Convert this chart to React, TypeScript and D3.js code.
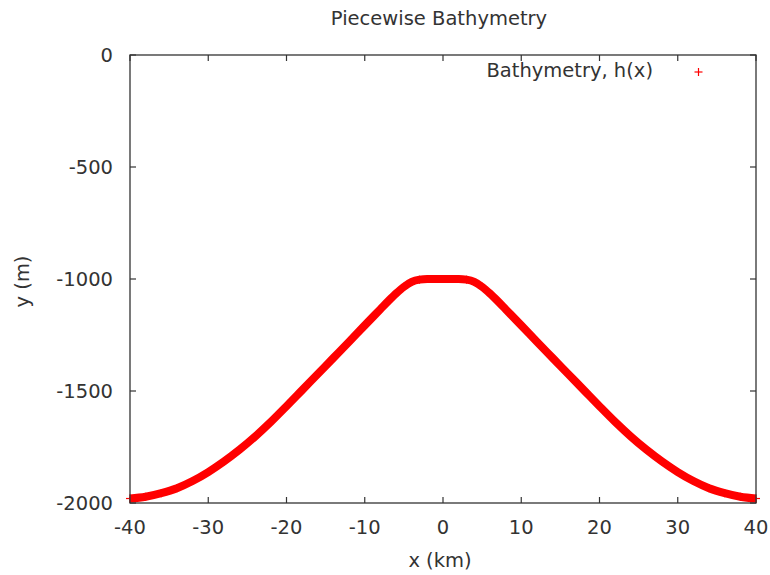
import React from "react";
import * as d3 from "d3";

const xKm = [
  -40, -38, -36, -34, -32, -30, -28, -26, -24, -22, -20, -18, -16, -14, -12, -10,
  -8, -7, -6, -5, -4, -3, -2, -1, 0, 1, 2, 3, 4, 5, 6, 7, 8,
  10, 12, 14, 16, 18, 20, 22, 24, 26, 28, 30, 32, 34, 36, 38, 40,
];
const depthM = [
  -1980, -1972, -1956, -1934, -1902, -1862, -1815, -1762, -1703, -1638, -1568, -1496, -1424, -1352, -1280, -1207,
  -1135, -1099, -1065, -1035, -1013, -1003, -1000, -1000, -1000, -1000, -1000, -1003, -1013, -1035, -1065, -1099, -1135,
  -1207, -1280, -1352, -1424, -1496, -1568, -1638, -1703, -1762, -1815, -1862, -1902, -1934, -1956, -1972, -1980,
];
const xTicks = [-40, -30, -20, -10, 0, 10, 20, 30, 40];
const yTicks = [0, -500, -1000, -1500, -2000];

const titleText = "Piecewise Bathymetry";
const xLabel = "x (km)";
const yLabel = "y (m)";
const legendLabel = "Bathymetry, h(x)";

const W = 770;
const H = 575;
const M = { left: 130, right: 756, top: 55, bottom: 503 };
const FONT = "'DejaVu Sans', sans-serif";
const FS = 19.5;
const TXT = "#333";
const RED = "#ff0000";

export default function App() {
  const x = d3.scaleLinear().domain([-40, 40]).range([M.left, M.right]);
  const y = d3.scaleLinear().domain([-2000, 0]).range([M.bottom, M.top]);
  const pts = xKm.map((v, i) => [v, depthM[i]] as [number, number]);
  const line = d3
    .line<[number, number]>()
    .x((d) => x(d[0]))
    .y((d) => y(d[1]))
    .curve(d3.curveMonotoneX);
  const tick = 6;
  const ms = 4;

  return (
    <svg
      width={W}
      height={H}
      style={{ position: "absolute", left: 0, top: 0, background: "#fff" }}
      fontFamily={FONT}
    >
      <rect x={0} y={0} width={W} height={H} fill="#fff" />
      {xTicks.map((t) => (
        <g key={"xt" + t}>
          <line x1={x(t)} x2={x(t)} y1={M.bottom} y2={M.bottom - tick} stroke="#333" strokeWidth={1.2} />
          <line x1={x(t)} x2={x(t)} y1={M.top} y2={M.top + tick} stroke="#333" strokeWidth={1.2} />
          <text x={x(t)} y={534} textAnchor="middle" fontSize={FS} fill={TXT}>
            {t}
          </text>
        </g>
      ))}
      {yTicks.map((t) => (
        <g key={"yt" + t}>
          <line x1={M.left} x2={M.left + tick} y1={y(t)} y2={y(t)} stroke="#333" strokeWidth={1.2} />
          <line x1={M.right} x2={M.right - tick} y1={y(t)} y2={y(t)} stroke="#333" strokeWidth={1.2} />
          <text x={113} y={y(t) + 7.2} textAnchor="end" fontSize={FS} fill={TXT}>
            {t}
          </text>
        </g>
      ))}
      <path d={line(pts) || ""} fill="none" stroke={RED} strokeWidth={8} />
      {pts.map((d, i) => (
        <g key={"m" + i} stroke={RED} strokeWidth={1.2}>
          <line x1={x(d[0]) - ms} x2={x(d[0]) + ms} y1={y(d[1])} y2={y(d[1])} />
          <line x1={x(d[0])} x2={x(d[0])} y1={y(d[1]) - ms} y2={y(d[1]) + ms} />
        </g>
      ))}
      <rect
        x={M.left}
        y={M.top}
        width={M.right - M.left}
        height={M.bottom - M.top}
        fill="none"
        stroke="#333"
        strokeWidth={1.3}
      />
      <text x={653} y={77} textAnchor="end" fontSize={FS} fill={TXT}>
        {legendLabel}
      </text>
      <g stroke={RED} strokeWidth={1.2}>
        <line x1={698.5 - ms} x2={698.5 + ms} y1={72} y2={72} />
        <line x1={698.5} x2={698.5} y1={72 - ms} y2={72 + ms} />
      </g>
      <text x={439} y={25} textAnchor="middle" fontSize={FS} fill={TXT}>
        {titleText}
      </text>
      <text x={440} y={567} textAnchor="middle" fontSize={FS} fill={TXT}>
        {xLabel}
      </text>
      <text
        transform={`translate(29,${281.5}) rotate(-90)`}
        textAnchor="middle"
        fontSize={FS}
        fill={TXT}
      >
        {yLabel}
      </text>
    </svg>
  );
}
